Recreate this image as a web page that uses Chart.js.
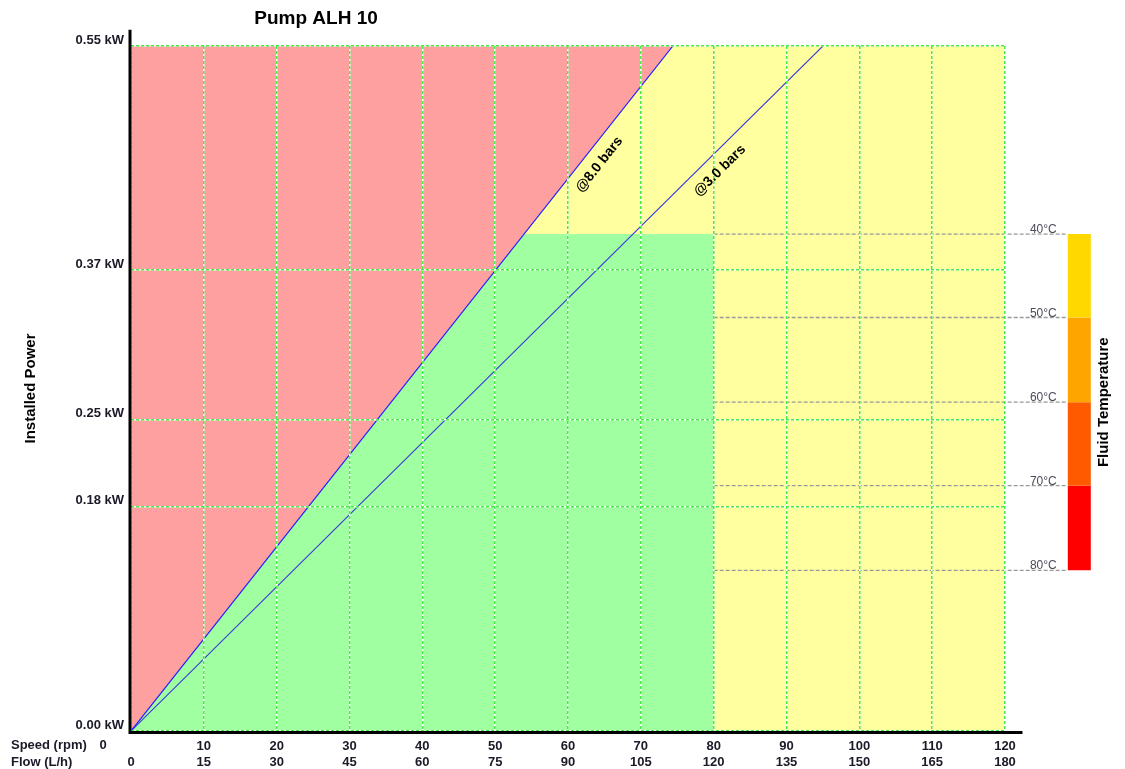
<!DOCTYPE html>
<html>
<head>
<meta charset="utf-8">
<script src="https://cdn.jsdelivr.net/npm/chart.js@4.4.1/dist/chart.umd.min.js"></script>
<style>
  html, body { margin: 0; background: #fff; }
  canvas { display: block; }
</style>
</head>
<body>
<canvas id="chart" width="1125" height="769"></canvas>
<script>
// Pump ALH 10 — installed power vs speed / flow, with the fluid temperature scale on the right.
const FONT = "'Liberation Sans', Arial, sans-serif";

const speedTicks = [0, 10, 20, 30, 40, 50, 60, 70, 80, 90, 100, 110, 120];
const flowTicks = [0, 15, 30, 45, 60, 75, 90, 105, 120, 135, 150, 165, 180];
const powerTicks = [0, 0.18, 0.25, 0.37, 0.55];
const powerLabels = ['0.00 kW', '0.18 kW', '0.25 kW', '0.37 kW', '0.55 kW'];

// pressure curves (rpm -> kW)
const bar8Speed = [0, 74.4];
const bar8Power = [0, 0.55];
const bar3Speed = [0, 95.0];
const bar3Power = [0, 0.55];

// safe operating zone (green): under the 8 bar curve, below 40°C power, up to 80 rpm
const greenSpeed = [0, 54.0, 80];
const greenPower = [0, 0.399, 0.399];

// temperature scale
const tempLabels = ['40°C', '50°C', '60°C', '70°C', '80°C'];
const tempPower = [0.399, 0.332, 0.264, 0.197, 0.129];
const tempColors = ['#FFD800', '#FFA500', '#FF5A00', '#FF0000'];

const speedMax = 120, powerMax = 0.55;
const tempLineFrom = 80, tempLineTo = 128.6, tempBarAt = 130.2;

const pts = (xs, ys) => xs.map((v, i) => ({ x: v, y: ys[i] }));

const datasets = [
  { label: 'bg', data: pts([0, speedMax], [powerMax, powerMax]), fill: 'origin', backgroundColor: '#FFFF9F', borderWidth: 0, order: 10 },
  { label: 'green', data: pts(greenSpeed, greenPower), fill: 'origin', backgroundColor: '#A0FFA0', borderWidth: 0, order: 9 },
  { label: 'red', data: pts(bar8Speed, bar8Power), fill: { value: powerMax }, backgroundColor: '#FFA0A0', borderWidth: 0, order: 8 },
];
tempPower.forEach((p, i) => {
  datasets.push({ label: 't' + i, data: pts([tempLineFrom, tempLineTo], [p, p]), borderColor: '#9a9a9a',
    borderWidth: 1.3, borderDash: [4, 2], clip: false, order: 5 });
});
tempColors.forEach((c, i) => {
  datasets.push({ label: 'bar' + i, data: pts([tempBarAt, tempBarAt], [tempPower[i], tempPower[i + 1]]), borderColor: c,
    borderWidth: 23, borderCapStyle: 'butt', clip: false, order: 4 });
});
datasets.push({ label: '@3.0 bars', data: pts(bar3Speed, bar3Power), borderColor: '#3c3cdc', borderWidth: 1.1, order: 2 });
datasets.push({ label: '@8.0 bars', data: pts(bar8Speed, bar8Power), borderColor: '#2020ff', borderWidth: 1.2, order: 1 });
datasets.forEach(d => { d.pointRadius = 0; d.tension = 0; if (d.fill === undefined) d.fill = false; });

const setTicks = vals => scale => { scale.ticks = vals.map(v => ({ value: v })); };

function lineLabel(ctx, x, y, xs, ys, text, at, off) {
  const n = xs.length - 1;
  const ang = Math.atan2(y.getPixelForValue(ys[n]) - y.getPixelForValue(ys[0]),
    x.getPixelForValue(xs[n]) - x.getPixelForValue(xs[0]));
  const p = ys[0] + (at - xs[0]) * (ys[n] - ys[0]) / (xs[n] - xs[0]);
  ctx.save();
  ctx.translate(x.getPixelForValue(at), y.getPixelForValue(p));
  ctx.rotate(ang);
  ctx.font = 'bold 14px ' + FONT;
  ctx.fillStyle = '#000';
  ctx.textAlign = 'center';
  ctx.textBaseline = 'middle';
  ctx.fillText(text, 0, off);
  ctx.restore();
}

const overlay = {
  id: 'overlay',
  afterDraw(chart) {
    const { ctx, scales: { x, y } } = chart;
    const x0 = x.getPixelForValue(0), y0 = y.getPixelForValue(0);
    ctx.save();
    // axis lines, drawn a little past the plot
    ctx.strokeStyle = '#000';
    ctx.lineWidth = 3;
    ctx.beginPath();
    ctx.moveTo(x0 - 1, y.getPixelForValue(0.563));
    ctx.lineTo(x0 - 1, y0 + 3);
    ctx.moveTo(x0 - 2.5, y0 + 1.5);
    ctx.lineTo(x.getPixelForValue(122.4), y0 + 1.5);
    ctx.stroke();

    // curve labels
    lineLabel(ctx, x, y, bar8Speed, bar8Power, '@8.0 bars', 62.6, 16);
    lineLabel(ctx, x, y, bar3Speed, bar3Power, '@3.0 bars', 79.3, 16);

    // title
    ctx.fillStyle = '#000';
    ctx.font = 'bold 19px ' + FONT;
    ctx.textAlign = 'center';
    ctx.textBaseline = 'middle';
    ctx.fillText('Pump ALH 10', 316, 19);

    // axis titles
    ctx.font = 'bold 15px ' + FONT;
    ctx.save();
    ctx.translate(31, (y.top + y.bottom) / 2);
    ctx.rotate(-Math.PI / 2);
    ctx.fillText('Installed Power', 0, 0);
    ctx.restore();
    ctx.save();
    ctx.translate(1104, y.getPixelForValue((tempPower[0] + tempPower[4]) / 2));
    ctx.rotate(-Math.PI / 2);
    ctx.fillText('Fluid Temperature', 0, 0);
    ctx.restore();

    // bottom axis names
    ctx.font = 'bold 13px ' + FONT;
    ctx.fillStyle = '#1a1a28';
    ctx.textAlign = 'left';
    const ys = y0 + 14, yf = y0 + 31;
    ctx.fillText('Speed (rpm)', 11, ys);
    ctx.fillText('Flow (L/h)', 11, yf);
    ctx.textAlign = 'center';
    ctx.fillText('0', 103, ys);

    // temperature labels
    ctx.font = '12px ' + FONT;
    ctx.fillStyle = '#4a4a5a';
    ctx.textAlign = 'right';
    ctx.textBaseline = 'alphabetic';
    const tx = x.getPixelForValue(127.1);
    tempLabels.forEach((t, i) => ctx.fillText(t, tx, y.getPixelForValue(tempPower[i]) - 1));
    ctx.restore();
  }
};

const gridGreen = { color: '#44ee44', lineWidth: 1.5, drawTicks: false, z: 2 };
const borderGreen = { display: false, dash: [3, 2] };
const gridWhite = { color: '#ffffff', lineWidth: 1.5, drawTicks: false, z: 1 };
const tickFont = { family: FONT, size: 13, weight: 'bold' };

new Chart(document.getElementById('chart'), {
  type: 'line',
  data: { datasets },
  plugins: [overlay],
  options: {
    responsive: false,
    animation: false,
    layout: { padding: { left: 0, top: 46, right: 120, bottom: 0 } },
    plugins: { legend: { display: false }, tooltip: { enabled: false }, title: { display: false } },
    scales: {
      x: {
        type: 'linear', position: 'bottom', min: 0, max: speedMax, weight: 1,
        afterBuildTicks: setTicks(speedTicks),
        afterFit: s => { s.height = 21; },
        grid: gridGreen,
        border: borderGreen,
        ticks: { padding: 8, color: '#1a1a28', font: tickFont, callback: v => v === 0 ? '' : v, maxRotation: 0, autoSkip: false },
      },
      x2: {
        type: 'linear', position: 'bottom', min: 0, max: 180, weight: 2,
        afterBuildTicks: setTicks(flowTicks),
        afterFit: s => { s.height = 17; },
        grid: { display: false, drawTicks: false },
        border: { display: false },
        ticks: { padding: 3, color: '#1a1a28', font: tickFont, maxRotation: 0, autoSkip: false },
      },
      xw: {
        type: 'linear', position: 'bottom', min: 0, max: speedMax, weight: 0,
        afterBuildTicks: setTicks(speedTicks),
        afterFit: s => { s.height = 0; },
        grid: gridWhite, border: { display: false }, ticks: { display: false },
      },
      y: {
        type: 'linear', position: 'left', min: 0, max: powerMax, weight: 1,
        afterBuildTicks: setTicks(powerTicks),
        afterFit: s => { s.width = 131; },
        grid: gridGreen,
        border: borderGreen,
        ticks: { padding: 7, labelOffset: -6, color: '#1a1a28', font: tickFont, callback: (v, i) => powerLabels[i], autoSkip: false },
      },
      yw: {
        type: 'linear', position: 'left', min: 0, max: powerMax, weight: 0,
        afterBuildTicks: setTicks(powerTicks),
        afterFit: s => { s.width = 0; },
        grid: gridWhite, border: { display: false }, ticks: { display: false },
      },
    },
  },
});
</script>
</body>
</html>
